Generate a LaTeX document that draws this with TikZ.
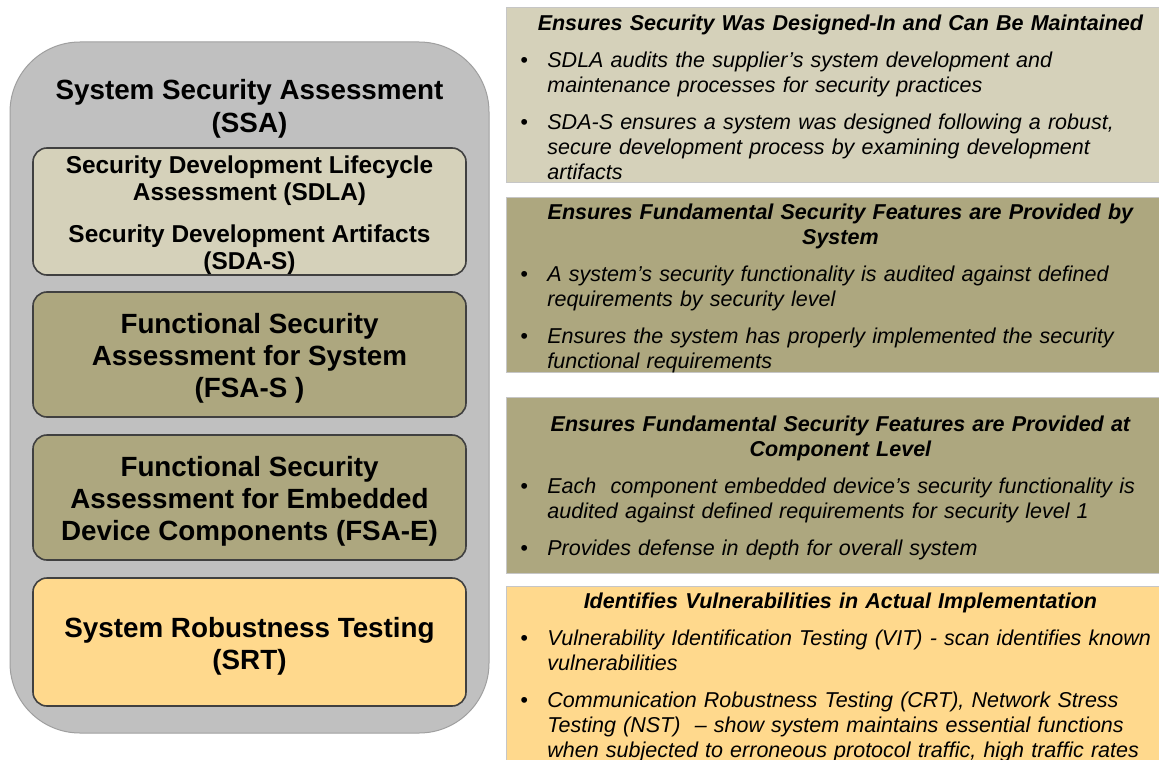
\documentclass[tikz,border=0pt]{standalone}
\usepackage{fontspec}
\setmainfont{Liberation Sans}
\usetikzlibrary{positioning}
\definecolor{ssagray}{HTML}{C0C0C0}
\definecolor{sdlatan}{HTML}{D5D1BA}
\definecolor{fsaolive}{HTML}{ADA77F}
\definecolor{srtorange}{HTML}{FFD98D}
\newcommand{\bul}[1]{\par\vspace{6pt}\begingroup\let\\\newline\hangindent=13.5pt\hangafter=1\noindent\makebox[13.5pt][l]{\textbullet}#1\par\endgroup}
\tikzset{
        % Outer assessment frame
        frame_ssa/.style={draw=gray!75, fill=ssagray, line width=0.5pt, rounded corners=35pt},
        % Frame title
        title_ssa/.style={align=center, inner sep=0pt, font=\bfseries\fontsize{13.9}{16.5}\selectfont},
        % Boxes inside the frame
        box_left/.style={draw=black!75, line width=0.8pt, rounded corners=7pt, inner sep=0pt, minimum width=216.5pt},
        % Text of the boxes
        box_text/.style={align=center, inner sep=0pt, font=\bfseries\fontsize{13.9}{16}\selectfont},
        % Panels on the right
        panel/.style={draw=gray!45, line width=0.5pt},
        % Panel text
        panel_text/.style={anchor=north west, inner sep=0pt, text width=320pt, align=left, font=\fontsize{10.75}{12.5}\selectfont\itshape, execute at begin node={\parskip=0pt}}
}
\begin{document}
\begin{tikzpicture}[x=0.5pt, y=-0.5pt]
    \useasboundingbox (0,0) rectangle (1159,759);
    \clip (0,0) rectangle (1159,759);
    % left side
    \draw[frame_ssa] (10,42) rectangle (489,733);
    \node[title_ssa] (ssa) at (249.5,109) {System Security Assessment\\(SSA)};
    \node[box_left, fill=sdlatan, minimum height=63.5pt] (sdla) at (249.5,211.5) {};
    \node[box_text, font=\bfseries\fontsize{12.2}{13.5}\selectfont] (sdla_text) at ([yshift=-2pt]sdla.center)
        {Security Development Lifecycle\\Assessment (SDLA)\\[7.5pt]Security Development Artifacts\\(SDA-S)};
    \node[box_left, fill=fsaolive, minimum height=62.5pt] (fsas) at (249.5,354.5) {};
    \node[box_text] (fsas_text) at ([yshift=-2pt]fsas.center)
        {Functional Security\\Assessment for System\\(FSA-S )};
    \node[box_left, fill=fsaolive, minimum height=62.5pt] (fsae) at (249.5,497.5) {};
    \node[box_text] (fsae_text) at ([yshift=-2pt]fsae.center)
        {Functional Security\\Assessment for Embedded\\Device Components (FSA-E)};
    \node[box_left, fill=srtorange, minimum height=64pt] (srt) at (249.5,642) {};
    \node[box_text] (srt_text) at ([yshift=-2.2pt]srt.center)
        {System Robustness Testing\\(SRT)};
    % right side
    \draw[panel, fill=sdlatan] (506,8) rectangle (1162,183);
    \draw[panel, fill=fsaolive] (506,197) rectangle (1162,372);
    \draw[panel, fill=fsaolive] (506,397) rectangle (1162,573);
    \draw[panel, fill=srtorange] (506,586) rectangle (1162,775);
    \node[panel_text] (sdla_panel) at (520,15) {%
        {\centering\bfseries Ensures Security Was Designed-In and Can Be Maintained\par}
        \bul{SDLA audits the supplier’s system development and\\maintenance processes for security practices}
        \bul{SDA-S ensures a system was designed following a robust,\\secure development process by examining development\\artifacts}};
    \node[panel_text] (fsas_panel) at (520,203.5) {%
        {\centering\bfseries Ensures Fundamental Security Features are Provided by\\System\par}
        \bul{A system’s security functionality is audited against defined\\requirements by security level}
        \bul{Ensures the system has properly implemented the security\\functional requirements}};
    \node[panel_text] (fsae_panel) at (520,415.3) {%
        {\centering\bfseries Ensures Fundamental Security Features are Provided at\\Component Level\par}
        \bul{Each \ component embedded device’s security functionality is\\audited against defined requirements for security level 1}
        \bul{Provides defense in depth for overall system}};
    \node[panel_text] (srt_panel) at (520,592.3) {%
        {\centering\bfseries Identifies Vulnerabilities in Actual Implementation\par}
        \bul{Vulnerability Identification Testing (VIT) - scan identifies known\\vulnerabilities}
        \bul{Communication Robustness Testing (CRT), Network Stress\\Testing (NST) \ – show system maintains essential functions\\when subjected to erroneous protocol traffic, high traffic rates}};
\end{tikzpicture}
\end{document}
